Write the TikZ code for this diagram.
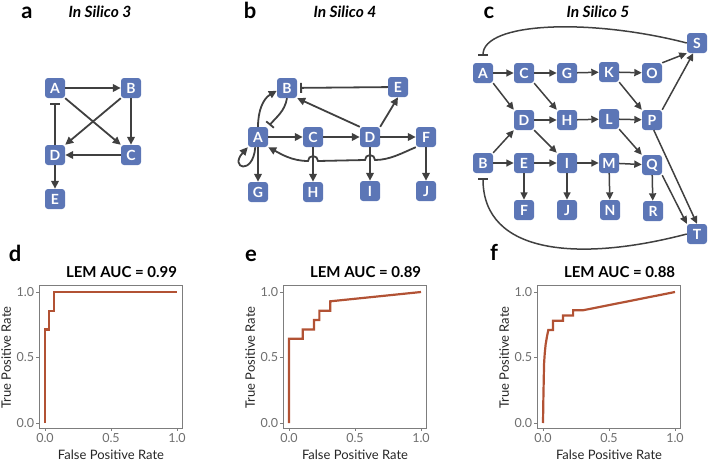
\documentclass[tikz,border=0pt]{standalone}
\usepackage{fontspec}
\setmainfont{Lato}
\usetikzlibrary{arrows.meta}

\begin{document}
\begin{tikzpicture}[x=1pt,y=1pt,>={Triangle[length=8pt,width=7.5pt]}]
\definecolor{genefill}{RGB}{92,118,182}
\definecolor{edge}{RGB}{64,64,64}
\definecolor{roc}{RGB}{178,82,52}
\definecolor{axisgray}{RGB}{125,125,125}
\definecolor{tickgray}{RGB}{110,110,110}
\tikzset{
 gene/.style={fill=genefill,rounded corners=3pt,minimum size=20pt,inner sep=0pt,
  text=white,font=\bfseries\fontsize{14}{14}\selectfont},
 act/.style={draw=edge,line width=1.8pt,->},
 inh/.style={draw=edge,line width=1.8pt,-{Bar[width=10pt]}},
 actc/.style={draw=edge,line width=1.5pt,-{Triangle[length=7.5pt,width=7pt]}},
 inhc/.style={draw=edge,line width=1.5pt,-{Bar[width=10pt]}},
 panel/.style={anchor=base,font=\bfseries\fontsize{22}{22}\selectfont},
 ttl/.style={anchor=base,font=\bfseries\itshape\fontsize{15.5}{15.5}\selectfont},
}
\useasboundingbox (0,0) rectangle (709,-463);

% (a) three-gene-loop network
\node[panel] at (27,-18) {a};
\node[ttl] at (100,-17) {In Silico 3};
\node[gene] (aA) at (55,-88) {A};
\node[gene] (aB) at (131,-88) {B};
\node[gene] (aD) at (55,-155) {D};
\node[gene] (aC) at (131,-155) {C};
\node[gene] (aE) at (55,-199) {E};
\draw[act] (aA) -- (aB);
\draw[act] (aA.south east) -- (aC.north west);
\draw[act] (aB.south west) -- (aD.north east);
\draw[act] (aB) -- (aC);
\draw[act] (aC) -- (aD);
\draw[inh,shorten >=5pt] (aD) -- (aA);
\draw[act] (aD) -- (aE);

% (b)
\node[panel] at (250,-18) {b};
\node[ttl] at (345,-17) {In Silico 4};
\node[gene] (bB) at (287,-88) {B};
\node[gene] (bE) at (398,-87) {E};
\node[gene] (bA) at (258,-137) {A};
\node[gene] (bC) at (313,-137) {C};
\node[gene] (bD) at (370,-137) {D};
\node[gene] (bF) at (426,-137) {F};
\node[gene] (bG) at (258,-192) {G};
\node[gene] (bH) at (313,-192) {H};
\node[gene] (bI) at (370,-191) {I};
\node[gene] (bJ) at (426,-191) {J};
\draw[act] (bA.north) to[out=90,in=210] (bB.195);
\draw[inh,shorten >=2pt] (bB.south) to[out=-100,in=50] (bA.north east);
\draw[inh,shorten >=3pt] (bE) -- (bB);
\draw[act] (bD.north west) -- (bB.south east);
\draw[act] (bA) -- (bC);
\draw[act] (bC) -- (bD);
\draw[act] (bD) -- (bF);
\draw[act] (bD.north east) -- (bE.south);
\draw[act] (bA) -- (bG);
\draw[act] (bC) -- (bH);
\draw[act] (bD) -- (bI);
\draw[act] (bF) -- (bJ);
% feedback F -> A hops over the two vertical edges
\draw[act] (bF.south west) .. controls (402,-153) and (390,-160) .. (375,-160)
 arc[start angle=0,end angle=180,radius=5] -- (318,-161)
 arc[start angle=0,end angle=180,radius=5]
 .. controls (292,-161) and (281,-154) .. (bA.south east);
\draw[act] (bA.-105) .. controls (253,-176) and (229,-168) .. (bA.south west);

% (c)
\node[panel] at (489,-18) {c};
\node[ttl] at (598,-17) {In Silico 5};
\node[gene] (cA) at (483,-73) {A};
\node[gene] (cC) at (524,-73) {C};
\node[gene] (cG) at (567,-73) {G};
\node[gene] (cK) at (609,-72) {K};
\node[gene] (cO) at (652,-73) {O};
\node[gene] (cS) at (697,-43) {S};
\node[gene] (cD) at (524,-120) {D};
\node[gene] (cH) at (567,-120) {H};
\node[gene] (cL) at (609,-119) {L};
\node[gene] (cP) at (652,-120) {P};
\node[gene] (cB) at (483,-163) {B};
\node[gene] (cE) at (524,-163) {E};
\node[gene] (cI) at (567,-163) {I};
\node[gene] (cM) at (609,-163) {M};
\node[gene] (cQ) at (652,-165) {Q};
\node[gene] (cF) at (524,-210) {F};
\node[gene] (cJ) at (567,-210) {J};
\node[gene] (cN) at (610,-210) {N};
\node[gene] (cR) at (653,-211) {R};
\node[gene] (cT) at (697,-234) {T};
\draw[actc] (cA) -- (cC);
\draw[actc] (cC) -- (cG);
\draw[actc] (cG) -- (cK);
\draw[actc] (cK) -- (cO);
\draw[actc] (cO.north east) -- (cS.south west);
\draw[actc] (cD) -- (cH);
\draw[actc] (cH) -- (cL);
\draw[actc] (cL) -- (cP);
\draw[actc] (cB) -- (cE);
\draw[actc] (cE) -- (cI);
\draw[actc] (cI) -- (cM);
\draw[actc] (cM) -- (cQ);
\draw[actc] (cA.south east) -- (cD.north west);
\draw[actc] (cC.south east) -- (cH.north west);
\draw[actc] (cK.south east) -- (cP.north west);
\draw[actc] (cP.north east) -- (cS.-110);
\draw[actc] (cB.north east) -- (cD.south west);
\draw[actc] (cD.south east) -- (cI.north west);
\draw[actc] (cL.south east) -- (cQ.north west);
\draw[actc] (cP.-80) -- (cT.north);
\draw[actc] (cQ.south east) -- (cT.north west);
\draw[actc] (cE) -- (cF);
\draw[actc] (cI) -- (cJ);
\draw[actc] (cM) -- (cN);
\draw[actc] (cQ) -- (cR);
\draw[inhc,shorten >=7pt] (cS.west) .. controls (590,-18) and (483,-22) .. (cA.north);
\draw[inhc,shorten >=5pt] (cT.west) .. controls (580,-262) and (483,-255) .. (cB.south);

% (d)-(f) ROC frames
\node[panel] at (15,-261) {d};
\node[panel] at (251,-261) {e};
\node[panel] at (494,-260) {f};
\foreach \x/\auc in {45/0.99,289/0.89,543/0.88}{
\begin{scope}[shift={(\x pt,-423pt)},x=132pt,y=131pt]
\draw[axisgray,line width=0.9pt] (-0.045,-0.04) rectangle (1.045,1.05);
\foreach \p in {0.0,0.5,1.0}{
 \draw[axisgray,line width=0.8pt] (\p,-0.04) -- ++(0,-3pt)
  node[anchor=north,inner sep=1.5pt,text=tickgray,font=\fontsize{12.5}{12.5}\selectfont] {\p};
 \draw[axisgray,line width=0.8pt] (-0.045,\p) -- ++(-3pt,0)
  node[anchor=east,inner sep=1.5pt,text=tickgray,font=\fontsize{12.5}{12.5}\selectfont] {\p};
}
\node[text=black!85,font=\fontsize{13}{13}\selectfont] at (0.5,-0.245) {False Positive Rate};
\node[text=black!85,font=\fontsize{13}{13}\selectfont,rotate=90] at (-0.295,0.5) {True Positive Rate};
\node[anchor=base,font=\bfseries\fontsize{15}{15}\selectfont] at (0.58,1.107) {LEM AUC = \auc};
\end{scope}
}

% ROC curves
\begin{scope}[shift={(45pt,-423pt)},x=132pt,y=131pt]
\draw[roc,line width=2.2pt] plot coordinates {(0,0) (0,0.714) (0.03,0.714)
 (0.03,0.857) (0.07,0.857) (0.07,1) (1,1)};
\end{scope}
\begin{scope}[shift={(289pt,-423pt)},x=132pt,y=131pt]
\draw[roc,line width=2.2pt] plot coordinates {(0,0) (0,0.643) (0.104,0.643)
 (0.104,0.714) (0.19,0.714) (0.19,0.786) (0.23,0.786) (0.23,0.857)
 (0.313,0.857) (0.313,0.929) (1,1)};
\end{scope}
\begin{scope}[shift={(543pt,-423pt)},x=132pt,y=131pt]
\draw[roc,line width=2.2pt] plot coordinates {(0,0) (0.003,0.2) (0.008,0.45)
 (0.013,0.53) (0.02,0.6) (0.03,0.66) (0.04,0.71) (0.076,0.71) (0.076,0.78)
 (0.152,0.78) (0.152,0.82) (0.228,0.82) (0.228,0.86) (0.30,0.86) (1,1)};
\end{scope}
\end{tikzpicture}
\end{document}
